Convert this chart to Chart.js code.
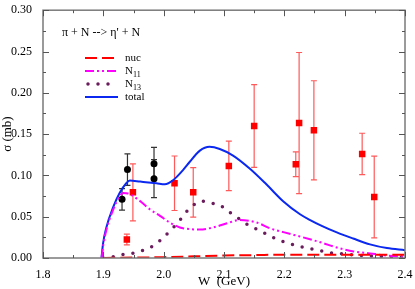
<!DOCTYPE html>
<html>
<head>
<meta charset="utf-8">
<script src="https://cdn.jsdelivr.net/npm/chart.js@4"></script>
<style>
  body { margin: 0; background: #fff; }
</style>
</head>
<body>
<canvas id="sigmaChart" width="415" height="289"></canvas>
<script>
// tick labels
const xTicks = [1.8, 1.9, 2.0, 2.1, 2.2, 2.3, 2.4];
const yTicks = [0, 0.05, 0.10, 0.15, 0.20, 0.25, 0.30];

// model curves (W in GeV, sigma in mb)
const totalW = [1.897, 1.8995, 1.905, 1.916, 1.927, 1.938, 1.944, 1.961, 1.988, 2.002, 2.016, 2.032, 2.043, 2.06, 2.076, 2.093, 2.115, 2.143, 2.171, 2.198, 2.226, 2.242, 2.262, 2.287, 2.314, 2.342, 2.37, 2.4];
const totalS = [0, 0.0175, 0.037, 0.061, 0.0786, 0.0905, 0.0937, 0.0925, 0.0905, 0.0893, 0.0945, 0.1064, 0.1162, 0.130, 0.1346, 0.132, 0.124, 0.108, 0.0886, 0.0688, 0.053, 0.0463, 0.039, 0.031, 0.0236, 0.0165, 0.012, 0.0095];

const n11W = [1.897, 1.9, 1.905, 1.916, 1.927, 1.933, 1.941, 1.961, 1.977, 1.994, 2.01, 2.027, 2.043, 2.06, 2.082, 2.105, 2.126, 2.154, 2.176, 2.2, 2.231, 2.26, 2.287, 2.315, 2.342, 2.37, 2.4];
const n11S = [0, 0.016, 0.034, 0.058, 0.0747, 0.0786, 0.078, 0.0688, 0.059, 0.051, 0.043, 0.037, 0.035, 0.0345, 0.037, 0.042, 0.046, 0.043, 0.036, 0.031, 0.025, 0.019, 0.0127, 0.008, 0.0055, 0.003, 0.0015];

const n13W = [1.9, 1.916, 1.933, 1.952, 1.97, 1.984, 1.999, 2.012, 2.024, 2.035, 2.049, 2.063, 2.076, 2.093, 2.11, 2.126, 2.14, 2.157, 2.173, 2.19, 2.206, 2.225, 2.242, 2.259, 2.277, 2.295, 2.33, 2.36, 2.4];
const n13S = [0, 0.0016, 0.0044, 0.0063, 0.0103, 0.0154, 0.0245, 0.034, 0.043, 0.0537, 0.0637, 0.0688, 0.0668, 0.064, 0.055, 0.047, 0.040, 0.034, 0.028, 0.022, 0.018, 0.014, 0.0115, 0.009, 0.0063, 0.005, 0.003, 0.002, 0.001];

const nucW = [1.9, 1.95, 2.0, 2.05, 2.1, 2.15, 2.2, 2.3, 2.4];
const nucS = [0, 0.0005, 0.001, 0.002, 0.003, 0.0035, 0.004, 0.004, 0.004];

// experimental points
const blackW = [1.931, 1.940, 1.984, 1.984];
const blackS = [0.071, 0.107, 0.114, 0.096];
const blackErr = [0.013, 0.019, 0.020, 0.023];

const redW = [1.939, 1.949, 2.018, 2.049, 2.108, 2.150, 2.219, 2.2245, 2.249, 2.329, 2.349];
const redS = [0.0225, 0.0795, 0.0905, 0.0795, 0.1115, 0.1598, 0.1135, 0.1634, 0.1546, 0.126, 0.0739];
const redErr = [0.0065, 0.0345, 0.033, 0.030, 0.030, 0.050, 0.015, 0.0854, 0.060, 0.025, 0.0495];

const SERIF = '"Liberation Serif", "Times New Roman", Times, serif';
Chart.defaults.font.family = SERIF;

function pts(xs, ys) {
  return xs.map((x, i) => ({ x: x, y: ys[i] }));
}

// error bars from the dataset's "errors" array
const errorBars = {
  id: 'errorBars',
  beforeDatasetsDraw(chart) {
    const ctx = chart.ctx;
    const xs = chart.scales.x, ys = chart.scales.y;
    chart.data.datasets.forEach(ds => {
      if (!ds.errors) return;
      ctx.save();
      ctx.strokeStyle = ds.errorColor;
      ctx.lineWidth = 1.2;
      ds.data.forEach((p, i) => {
        const px = xs.getPixelForValue(p.x);
        const top = ys.getPixelForValue(p.y + ds.errors[i]);
        const bot = ys.getPixelForValue(p.y - ds.errors[i]);
        ctx.beginPath();
        ctx.moveTo(px, top); ctx.lineTo(px, bot);
        ctx.moveTo(px - 3, top); ctx.lineTo(px + 3, top);
        ctx.moveTo(px - 3, bot); ctx.lineTo(px + 3, bot);
        ctx.stroke();
      });
      ctx.restore();
    });
  }
};

// frame with inward ticks on all four sides, reaction text and legend
const frameAndLegend = {
  id: 'frameAndLegend',
  afterDraw(chart) {
    const ctx = chart.ctx;
    const a = chart.chartArea;
    const xs = chart.scales.x, ys = chart.scales.y;
    ctx.save();
    ctx.strokeStyle = '#7a7a7a';
    ctx.lineWidth = 1.5;
    ctx.strokeRect(a.left, a.top, a.right - a.left, a.bottom - a.top);

    ctx.strokeStyle = '#555';
    ctx.lineWidth = 1;
    ctx.beginPath();
    for (let v = 1.8; v <= 2.4001; v += 0.05) {
      const px = Math.round(xs.getPixelForValue(v)) + 0.5;
      const major = Math.abs(v * 10 - Math.round(v * 10)) < 1e-6;
      const len = major ? 6 : 3;
      ctx.moveTo(px, a.bottom); ctx.lineTo(px, a.bottom - len);
      ctx.moveTo(px, a.top); ctx.lineTo(px, a.top + len);
    }
    for (let v = 0; v <= 0.3001; v += 0.025) {
      const py = Math.round(ys.getPixelForValue(v)) + 0.5;
      const major = Math.abs(v * 20 - Math.round(v * 20)) < 1e-6;
      const len = major ? 6 : 3;
      ctx.moveTo(a.left, py); ctx.lineTo(a.left + len, py);
      ctx.moveTo(a.right, py); ctx.lineTo(a.right - len, py);
    }
    ctx.stroke();

    // reaction label
    ctx.fillStyle = '#000';
    ctx.font = '12px ' + SERIF;
    ctx.textBaseline = 'middle';
    ctx.fillText("\u03c0 + N --> \u03b7' + N", 62, 33);

    // legend
    const items = [
      { label: 'nuc', sub: '', color: '#ff0000', dash: [12, 5], width: 2, cap: 'butt' },
      { label: 'N', sub: '11', color: '#ff00ff', dash: [9, 3, 2, 3, 2, 3], width: 2, cap: 'butt' },
      { label: 'N', sub: '13', color: '#6b1c5c', dash: [0, 10], width: 3.5, cap: 'round' },
      { label: 'total', sub: '', color: '#0a28f0', dash: [], width: 2, cap: 'butt' }
    ];
    const ly = [58, 71, 84, 97];
    items.forEach((it, i) => {
      ctx.strokeStyle = it.color;
      ctx.lineWidth = it.width;
      ctx.lineCap = it.cap;
      ctx.setLineDash(it.dash);
      ctx.beginPath();
      ctx.moveTo(it.cap === 'round' ? 88 : 85, ly[i]);
      ctx.lineTo(118, ly[i]);
      ctx.stroke();
      ctx.setLineDash([]);
      ctx.lineCap = 'butt';
      ctx.font = '11px ' + SERIF;
      ctx.fillStyle = '#000';
      ctx.fillText(it.label, 125, ly[i]);
      if (it.sub) {
        const w = ctx.measureText(it.label).width;
        ctx.font = '8px ' + SERIF;
        ctx.fillText(it.sub, 125 + w, ly[i] + 4);
      }
    });
    ctx.restore();
  }
};

new Chart(document.getElementById('sigmaChart'), {
  type: 'scatter',
  data: {
    datasets: [
      {
        label: 'nuc',
        data: pts(nucW, nucS),
        showLine: true,
        borderColor: '#ff0000',
        borderWidth: 2,
        borderDash: [12, 5],
        pointRadius: 0,
        cubicInterpolationMode: 'monotone'
      },
      {
        label: 'N11',
        data: pts(n11W, n11S),
        showLine: true,
        borderColor: '#ff00ff',
        borderWidth: 2,
        borderDash: [9, 3, 2, 3, 2, 3],
        pointRadius: 0,
        cubicInterpolationMode: 'monotone'
      },
      {
        label: 'N13',
        data: pts(n13W, n13S),
        showLine: true,
        borderColor: '#6b1c5c',
        borderWidth: 3.5,
        borderDash: [0, 10],
        borderCapStyle: 'round',
        pointRadius: 0,
        cubicInterpolationMode: 'monotone'
      },
      {
        label: 'total',
        data: pts(totalW, totalS),
        showLine: true,
        borderColor: '#0a28f0',
        borderWidth: 2,
        pointRadius: 0,
        cubicInterpolationMode: 'monotone'
      },
      {
        label: 'data A',
        data: pts(redW, redS),
        errors: redErr,
        errorColor: 'rgba(255, 60, 60, 0.85)',
        pointStyle: 'rect',
        pointRadius: 4.6,
        backgroundColor: '#ff0000',
        borderColor: '#ff0000',
        borderWidth: 0
      },
      {
        label: 'data B',
        data: pts(blackW, blackS),
        errors: blackErr,
        errorColor: '#333',
        pointStyle: 'circle',
        pointRadius: 3.5,
        backgroundColor: '#000',
        borderColor: '#000',
        borderWidth: 0
      }
    ]
  },
  options: {
    responsive: false,
    animation: false,
    layout: {
      padding: { top: 5, right: 10, left: 0, bottom: 0 }
    },
    plugins: {
      legend: { display: false },
      tooltip: { enabled: false }
    },
    scales: {
      x: {
        type: 'linear',
        min: 1.8,
        max: 2.4,
        afterFit: s => { s.height = 31; },
        afterBuildTicks: s => { s.ticks = xTicks.map(v => ({ value: v })); },
        grid: { display: false },
        border: { display: false },
        ticks: {
          padding: 2,
          color: '#000',
          font: { family: SERIF, size: 12 },
          callback: v => v.toFixed(1)
        },
        title: {
          display: true,
          text: 'W  (GeV)',
          color: '#000',
          font: { family: SERIF, size: 13 },
          padding: { top: 1, bottom: 0 }
        }
      },
      y: {
        type: 'linear',
        min: 0,
        max: 0.3,
        afterFit: s => { s.width = 43; },
        afterBuildTicks: s => { s.ticks = yTicks.map(v => ({ value: v })); },
        grid: { display: false },
        border: { display: false },
        ticks: {
          padding: 3,
          color: '#000',
          font: { family: SERIF, size: 12 },
          callback: v => v.toFixed(2)
        },
        title: {
          display: true,
          text: '\u03c3 (mb)',
          color: '#000',
          font: { family: SERIF, size: 13 },
          padding: { top: 0, bottom: 0 }
        }
      }
    }
  },
  plugins: [errorBars, frameAndLegend]
});
</script>
</body>
</html>
